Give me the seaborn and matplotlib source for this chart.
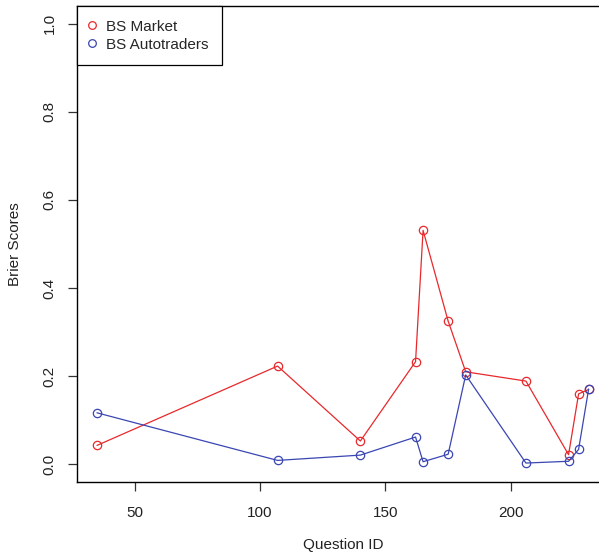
import matplotlib
matplotlib.use("Agg")
import matplotlib.pyplot as plt
import seaborn as sns
import pandas as pd
from matplotlib.lines import Line2D

question_id = [35, 107, 140, 162, 165, 175, 182, 206, 223, 227, 231]
bs_market = [0.043, 0.223, 0.053, 0.233, 0.531, 0.325, 0.210, 0.189, 0.022, 0.160, 0.170]
bs_autotraders = [0.117, 0.009, 0.021, 0.062, 0.006, 0.023, 0.203, 0.003, 0.007, 0.034, 0.171]
series_names = ["BS Market", "BS Autotraders"]
x_ticks = [50, 100, 150, 200]
y_ticks = [0.0, 0.2, 0.4, 0.6, 0.8, 1.0]

df = pd.concat([
    pd.DataFrame({"Question ID": question_id, "Brier Scores": bs_market, "series": series_names[0]}),
    pd.DataFrame({"Question ID": question_id, "Brier Scores": bs_autotraders, "series": series_names[1]}),
])

sns.set_style("white")
plt.rcParams["font.family"] = ["Liberation Sans", "DejaVu Sans"]

FS = 11
W, H = 599, 557
fig = plt.figure(figsize=(W / 100, H / 100), dpi=100)
left_px, right_px, top_px, bot_px = 77.3, 608.3, 6, 482
ax = fig.add_axes([left_px / W, 1 - bot_px / H, (right_px - left_px) / W, (bot_px - top_px) / H])

palette = {"BS Market": "#e8292c", "BS Autotraders": "#3a46b2"}
sns.lineplot(data=df, x="Question ID", y="Brier Scores", hue="series", palette=palette,
             marker="o", markersize=6, markerfacecolor="none", markeredgewidth=0.9,
             linewidth=0.9, ax=ax, legend=False, sort=False)
for line, name in zip(ax.lines, series_names):
    line.set_markeredgecolor(palette[name])

xmin, xmax = min(question_id), max(question_id)
pad = (xmax - xmin) * 0.04
ax.set_xlim(xmin - pad, xmax + pad)
ax.set_ylim(-0.04, 1.04)
ax.set_xticks(x_ticks)
ax.set_yticks(y_ticks)
ax.set_yticklabels([f"{v:.1f}" for v in y_ticks], rotation=90, va="center")
ax.tick_params(axis="both", direction="out", length=6.5, width=0.9, color="#333333",
               labelsize=FS, labelcolor="#222222", bottom=True, left=True)
ax.tick_params(axis="x", pad=10.5)
ax.tick_params(axis="y", pad=8.5)
for s in ax.spines.values():
    s.set_color("black")
    s.set_linewidth(1.0)

ax.set_xlabel("Question ID", fontsize=FS, color="#222222")
ax.set_ylabel("Brier Scores", fontsize=FS, color="#222222")
ax.xaxis.label.set_va("center")
ax.yaxis.label.set_va("center")
ax.xaxis.set_label_coords(0.5, -(545 - bot_px) / (bot_px - top_px))
ax.yaxis.set_label_coords(-(left_px - 15) / (right_px - left_px), 0.5)

handles = [Line2D([], [], color=palette[n], marker="o", markerfacecolor="none", linestyle="none",
                  markersize=5.5, markeredgewidth=0.9) for n in series_names]
leg = ax.legend(handles, series_names, loc="upper left", bbox_to_anchor=(0, 1), borderaxespad=0,
                fancybox=False, edgecolor="black", framealpha=1, fontsize=FS,
                handlelength=0.1, handletextpad=0.85, borderpad=0.9, labelspacing=0.25)
leg.get_frame().set_linewidth(0.9)

fig.savefig("out.png", dpi=100)
